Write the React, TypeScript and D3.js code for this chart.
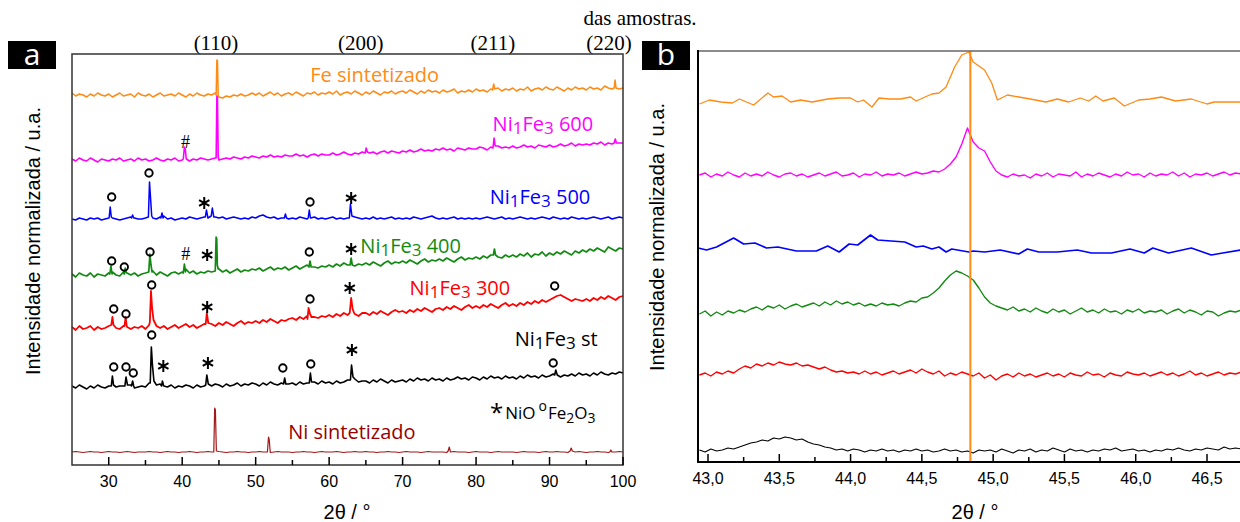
import React from "react";
import * as d3 from "d3";

// ---------- Panel (a): full XRD patterns, 2θ 25–100° ----------
// Baselines sampled every 0.5° from 25°, relative to each pattern's stacking offset.
const A_START = 25;
const A_STEP = 0.5;

const feBase = [
  2, -1, 1, 0, -2, 1, -1, 2, 0, -1,
  1, -2, 0, 2, -1, 0, 1, -2, 2, 0,
  -1, 1, -2, 0, 2, -1, 0, 1, -1, 2,
  0, -2, 1, -1, 2, 0, -1, 1, 0, 2,
  -2, -3, -1, -2, 0, -1, 1, -1, 0, 2,
  0, 2, -1, 1, 3, 0, 2, -1, 1, 2,
  0, 3, 1, -1, 2, 1, 3, 0, 2, 1,
  3, 1, 4, 0, 2, 3, 1, 4, 2, 0,
  3, 1, 4, 2, 0, 3, 2, 4, 1, 3,
  4, 2, 5, 3, 1, 4, 2, 5, 3, 4,
  2, 5, 3, 4, 6, 2, 4, 3, 5, 3,
  6, 4, 5, 3, 6, 5, 7, 4, 6, 5,
  7, 4, 6, 5, 8, 4, 6, 7, 5, 8,
  6, 5, 8, 6, 4, 7, 5, 8, 6, 7,
  5, 8, 6, 7, 5, 9, 7, 6, 8, 6,
  7,
];
const fePeaks = [
  [[44.62, 0], [44.72, 35], [44.8, 34], [44.9, -1]],
  [[82.25, 5], [82.4, 11], [82.55, 6]],
  [[98.8, 7], [98.92, 15], [99.05, 7]],
];

const n600Base = [
  1, -1, 2, 0, -1, 2, 0, -2, 1, 0,
  -1, 1, 0, 2, -1, 0, 1, -1, 2, 0,
  1, -1, 0, 2, 0, -1, 1, 0, 2, -1,
  0, 1, -1, 1, 0, 2, 1, 0, 1, 2,
  0, 1, 2, 1, 3, 2, 1, 3, 2, 4,
  3, 2, 4, 3, 5, 3, 4, 3, 5, 4,
  4, 6, 4, 5, 3, 5, 6, 4, 6, 5,
  5, 7, 5, 6, 8, 6, 5, 7, 6, 8,
  9, 7, 8, 6, 8, 9, 7, 9, 8, 7,
  9, 8, 10, 8, 9, 11, 9, 10, 9, 11,
  10, 12, 10, 11, 9, 12, 11, 10, 12, 11,
  11, 13, 12, 10, 13, 12, 14, 12, 13, 12,
  14, 12, 13, 15, 13, 14, 12, 15, 14, 13,
  15, 13, 14, 16, 14, 15, 17, 14, 16, 15,
  16, 15, 17, 16, 18, 15, 17, 16, 18, 17,
  17,
];
const n600Peaks = [
  [[40.15, 1], [40.3, 13], [40.42, 11], [40.55, 1]],
  [[44.62, 2], [44.72, 64], [44.8, 62], [44.9, 3]],
  [[64.9, 7], [65.05, 12], [65.2, 8]],
  [[82.3, 12], [82.45, 22], [82.6, 14]],
  [[98.8, 17], [98.95, 21], [99.1, 17]],
];

const n500Base = [
  0, -1, 1, 0, -1, 1, 0, 1, -1, 0,
  1, 1, 0, -1, 0, 1, 2, 1, 0, 0,
  1, 0, 1, 0, 2, 3, 0, 1, -1, 0,
  1, 0, 2, 1, 0, 1, 2, 1, 3, 2,
  1, 2, 0, 1, 2, 1, 0, 1, 0, 2,
  1, 3, 4, 2, 1, 2, 0, 1, 2, 0,
  1, 0, 2, 1, 0, 1, 2, 0, 1, 0,
  1, 2, 0, 1, 0, 1, 0, 2, 1, 0,
  1, 0, 2, 0, 1, 0, 1, 2, 0, 1,
  0, 1, 0, 2, 1, 0, 1, 2, 3, 1,
  0, 1, 0, 1, 2, 0, 1, 0, 1, 0,
  1, 0, 1, 2, 1, 0, 1, 2, 0, 1,
  0, 1, 2, 1, 0, 1, 0, 1, 2, 1,
  0, 2, 1, 0, 1, 0, 2, 1, 0, 1,
  0, 1, 2, 1, 0, 1, 2, 0, 1, 2,
  1,
];
const n500Peaks = [
  [[30.05, 1], [30.2, 12], [30.35, 2]],
  [[33.1, 1], [33.25, 4], [33.4, 1]],
  [[35.4, 2], [35.55, 37], [35.7, 20], [35.85, 3]],
  [[37.1, 1], [37.25, 6], [37.4, 1]],
  [[43.15, 2], [43.3, 9], [43.45, 3]],
  [[43.95, 3], [44.1, 11], [44.3, 2]],
  [[53.9, 1], [54.05, 5], [54.2, 1]],
  [[57.15, 1], [57.3, 9], [57.45, 1]],
  [[62.75, 1], [62.9, 15], [63.1, 3]],
];

const n400Base = [
  1, -2, 2, 0, -1, 2, -2, 1, 0, -1,
  2, 3, 0, -1, 3, 2, 0, 2, -1, 1,
  2, 4, 4, 0, 3, 1, -1, 2, 3, 1,
  3, 6, 2, 4, 1, 3, 2, 4, 3, 4,
  6, 3, 5, 2, 4, 6, 3, 5, 4, 6,
  5, 7, 4, 6, 8, 5, 7, 6, 8, 5,
  7, 9, 6, 8, 10, 12, 8, 7, 9, 8,
  10, 8, 11, 9, 12, 10, 13, 9, 11, 10,
  12, 10, 13, 11, 9, 12, 14, 11, 13, 12,
  14, 12, 15, 13, 11, 14, 16, 13, 15, 14,
  16, 14, 17, 15, 13, 16, 18, 15, 17, 16,
  18, 16, 19, 17, 20, 22, 18, 17, 20, 18,
  20, 18, 21, 19, 22, 18, 21, 20, 23, 19,
  22, 20, 23, 21, 24, 22, 20, 24, 22, 25,
  23, 26, 24, 27, 25, 23, 28, 26, 24, 27,
  26,
];
const n400Peaks = [
  [[30.15, 1], [30.3, 9], [30.45, 1]],
  [[32.1, 1], [32.25, 7], [32.4, 2]],
  [[35.45, 3], [35.6, 21], [35.75, 10], [35.9, 3]],
  [[40.15, 2], [40.3, 11], [40.45, 3]],
  [[44.5, 4], [44.62, 38], [44.7, 36], [44.78, 10], [44.9, 6]],
  [[57.25, 8], [57.4, 14], [57.55, 8]],
  [[62.85, 10], [63.0, 17], [63.15, 10]],
  [[82.35, 20], [82.5, 26], [82.65, 20]],
];

const n300Base = [
  1, -2, 2, -1, 0, 2, -2, 1, -1, 0,
  2, 3, 0, -1, 2, 1, -1, 1, 0, 2,
  -1, 3, 12, 2, 0, 2, -1, 1, 3, 0,
  2, 4, 1, 3, 0, 2, 4, 3, 4, 2,
  5, 3, 6, 4, 2, 5, 7, 4, 6, 5,
  7, 5, 8, 6, 9, 7, 5, 8, 7, 9,
  10, 8, 11, 9, 12, 14, 11, 10, 12, 11,
  13, 11, 14, 12, 15, 13, 16, 14, 12, 15,
  15, 13, 16, 14, 17, 15, 13, 16, 18, 16,
  17, 15, 18, 16, 19, 17, 20, 18, 16, 19,
  20, 18, 21, 19, 22, 20, 18, 21, 23, 20,
  22, 20, 23, 21, 24, 22, 20, 23, 25, 22,
  24, 22, 25, 23, 26, 24, 27, 25, 28, 26,
  28, 30, 32, 33, 31, 29, 27, 29, 28, 27,
  29, 27, 30, 28, 31, 29, 32, 30, 28, 31,
  32,
];
const n300Peaks = [
  [[30.35, 3], [30.5, 11], [30.65, 3]],
  [[32.15, 2], [32.3, 11], [32.45, 2]],
  [[35.6, 6], [35.75, 37], [35.9, 20], [36.1, 8]],
  [[43.2, 4], [43.35, 15], [43.55, 5]],
  [[57.05, 9], [57.2, 20], [57.4, 14], [57.6, 11]],
  [[62.8, 15], [63.0, 30], [63.2, 19], [63.4, 15]],
];

const stBase = [
  1, -1, 2, 0, -2, 1, -1, 2, 0, -1,
  1, 2, 0, 1, 1, 0, 2, -1, 0, 1,
  0, 4, 14, 2, 3, 1, 0, 2, -1, 1,
  0, 2, 1, -1, 2, 0, 1, 2, 1, 3,
  2, 0, 3, 1, 2, 4, 1, 3, 2, 4,
  3, 1, 4, 2, 5, 3, 2, 4, 5, 3,
  4, 2, 5, 3, 4, 6, 5, 3, 6, 4,
  5, 3, 6, 4, 5, 7, 12, 8, 5, 6,
  6, 4, 7, 5, 8, 6, 4, 7, 5, 6,
  7, 5, 8, 6, 9, 7, 8, 6, 9, 7,
  8, 6, 9, 7, 8, 10, 8, 9, 7, 10,
  9, 7, 10, 8, 11, 9, 10, 8, 11, 9,
  10, 8, 11, 9, 12, 10, 11, 9, 12, 10,
  11, 13, 12, 10, 12, 11, 13, 11, 14, 12,
  13, 11, 14, 12, 15, 13, 12, 14, 13, 15,
  14,
];
const stPeaks = [
  [[30.35, 1], [30.5, 11], [30.65, 2]],
  [[32.2, 1], [32.35, 10], [32.55, 2]],
  [[33.1, 1], [33.25, 6], [33.4, 1]],
  [[35.65, 4], [35.8, 40], [35.95, 22], [36.15, 6]],
  [[37.2, 1], [37.3, 6], [37.45, 2]],
  [[43.2, 2], [43.35, 12], [43.55, 3]],
  [[53.8, 3], [53.95, 9], [54.1, 3]],
  [[57.3, 4], [57.45, 14], [57.6, 5]],
  [[62.9, 7], [63.05, 22], [63.25, 10]],
  [[90.7, 12], [90.85, 17], [91.05, 12]],
];

const niBase = [
  0, 0.5, 0, -0.5, 0, 0.5, 0, 0, -0.5, 0,
  0.5, 0, 0, -0.5, 0, 0.5, 0, -0.5, 0, 0,
  0, 0.5, 0, 0, -0.5, 0, 0.5, 0, 0, -0.5,
  0, 0, 0.5, 0, -0.5, 0, 0, 0.5, 0, 0,
  0.5, 0, -0.5, 0, 0, 0.5, 0, 0, -0.5, 0,
  0, 0.5, 0, 0, -0.5, 0, 0.5, 0, 0, 0,
  -0.5, 0, 0, 0.5, 0, 0, -0.5, 0, 0.5, 0,
  0, 0, 0.5, 0, -0.5, 0, 0, 0.5, 0, 0,
  0.5, 0, 0, -0.5, 0, 0, 0.5, 0, 0, -0.5,
  0, 0.5, 0, 0, 0, -0.5, 0, 0.5, 0, 0,
  0, 0, -0.5, 0, 0.5, 0, 0, 0, -0.5, 0,
  0.5, 0, 0, 0, -0.5, 0, 0.5, 0, 0, 0,
  0, -0.5, 0, 0.5, 0, 0, 0, -0.5, 0, 0.5,
  0, 0, 0.5, 0, 0, -0.5, 0, 0, 0.5, 0,
  -0.5, 0, 0, 0.5, 0, 0, -0.5, 0, 0, 0.5,
  0,
];
const niPeaks = [
  [[44.3, 0], [44.42, 44], [44.52, 42], [44.65, 1]],
  [[51.6, 0], [51.75, 15], [51.85, 12], [51.98, 0]],
  [[76.2, 1], [76.35, 5], [76.48, 1]],
  [[92.8, 1], [92.95, 4], [93.1, 1]],
  [[98.2, 0], [98.35, 2], [98.48, 0]],
];

// Phase markers: [2θ, stacked intensity, symbol]
const n600Marks = [[40.45, 323, "#"]];
const n500Marks = [[30.4, 268, "o"], [35.48, 292, "o"], [43.0, 262, "*"], [57.4, 263, "o"], [63.0, 267, "*"]];
const n400Marks = [[30.4, 204, "o"], [32.12, 198, "o"], [35.62, 213, "o"], [40.48, 211, "#"], [43.4, 210, "*"], [57.3, 213, "o"], [63.0, 216, "*"]];
const n300Marks = [[30.68, 156, "o"], [32.35, 151, "o"], [35.85, 180, "o"], [43.4, 158, "*"], [57.4, 166, "o"], [62.8, 177, "*"], [90.7, 179, "o"]];
const stMarks = [[30.68, 98], [32.35, 98], [33.34, 92], [35.85, 130], [53.7, 97], [57.5, 101], [90.5, 102]].map((d) => [d[0], d[1], "o"])
  .concat([[37.43, 99, "*"], [43.5, 102, "*"], [63.1, 115, "*"]]);

// Stacking offsets of the patterns (same units as the axis)
const offsets = { fe: 370, n600: 305, n500: 246, n400: 190, n300: 137, st: 78, ni: 13 };

const millerLabels = ["(110)", "(200)", "(211)", "(220)"];
const millerPos = [44.6, 64.3, 82.3, 98.1];

const ticksA = [30, 40, 50, 60, 70, 80, 90, 100];
const minorA = [35, 45, 55, 65, 75, 85, 95];

// ---------- Panel (b): zoom on the (110) reflection ----------
const B_START = 42.94;
const B_STEP = 0.04;

const bOrange = [
  [42.94, 358], [43.01, 362], [43.09, 360], [43.17, 359], [43.22, 363], [43.32, 357], [43.42, 369], [43.46, 365],
  [43.52, 366], [43.58, 360], [43.65, 362], [43.73, 360], [43.84, 363], [43.92, 364], [44.0, 364], [44.05, 360],
  [44.09, 362], [44.15, 355], [44.2, 364], [44.27, 363], [44.35, 363], [44.42, 365], [44.46, 361], [44.57, 368],
  [44.62, 369], [44.67, 375], [44.73, 395], [44.78, 407], [44.83, 410], [44.86, 400], [44.94, 392], [44.99, 379],
  [45.03, 362], [45.1, 367], [45.18, 365], [45.26, 363], [45.37, 360], [45.45, 363], [45.53, 360], [45.61, 364],
  [45.67, 361], [45.72, 366], [45.77, 361], [45.85, 364], [45.92, 356], [46.02, 362], [46.1, 363], [46.18, 365],
  [46.28, 361], [46.39, 363], [46.5, 358], [46.55, 360], [46.74, 360],
];

const bMagenta = [
  287, 289, 285, 288, 286, 290, 287, 285, 289, 286,
  288, 286, 290, 287, 285, 288, 289, 286, 288, 285,
  287, 289, 286, 288, 290, 286, 287, 289, 285, 288,
  287, 290, 286, 288, 287, 289, 286, 288, 290, 288,
  289, 291, 290, 293, 298, 305, 318, 334, 320, 314,
  311, 300, 291, 287, 285, 288, 286, 287, 284, 288,
  286, 289, 285, 288, 287, 286, 290, 285, 288, 286,
  289, 287, 285, 288, 286, 290, 287, 288, 285, 289,
  286, 288, 287, 290, 286, 289, 285, 288, 287, 289,
  286, 288, 290, 287, 289, 288,
];

const bBlue = [
  [42.93, 214], [42.99, 212], [43.06, 215], [43.18, 224], [43.25, 218], [43.33, 219], [43.41, 214], [43.49, 215],
  [43.62, 211], [43.76, 211], [43.84, 216], [43.92, 210], [43.99, 218], [44.05, 217], [44.14, 227], [44.19, 222],
  [44.38, 220], [44.46, 215], [44.51, 216], [44.57, 213], [44.62, 215], [44.67, 210], [44.71, 213], [44.83, 210],
  [44.86, 211], [44.94, 210], [45.05, 212], [45.18, 208], [45.24, 213], [45.32, 210], [45.45, 210], [45.59, 212],
  [45.69, 209], [45.83, 209], [45.96, 213], [46.06, 209], [46.12, 214], [46.23, 209], [46.39, 214], [46.53, 207],
  [46.61, 209], [46.74, 212],
];

const bGreen = [
  148, 151, 146, 150, 147, 151, 149, 152, 150, 153,
  155, 152, 156, 154, 157, 153, 156, 158, 155, 157,
  159, 156, 160, 157, 161, 158, 160, 157, 159, 156,
  158, 156, 159, 157, 158, 156, 159, 161, 160, 164,
  165, 169, 174, 181, 187, 191, 189, 186, 182, 174,
  165, 159, 156, 154, 152, 155, 151, 153, 150, 154,
  151, 149, 153, 150, 152, 148, 151, 154, 150, 152,
  149, 153, 150, 151, 148, 152, 150, 153, 149, 151,
  150, 152, 148, 151, 153, 149, 152, 150, 147, 151,
  150, 146, 149, 151, 150, 152,
];

const bRed = [
  87, 89, 86, 90, 88, 91, 89, 93, 96, 94,
  98, 96, 99, 97, 100, 98, 97, 99, 96, 97,
  95, 93, 95, 92, 90, 91, 89, 90, 88, 91,
  88, 90, 87, 89, 91, 88, 90, 92, 89, 93,
  90, 88, 91, 86, 89, 87, 90, 88, 86, 89,
  84, 87, 82, 86, 88, 85, 89, 86, 88, 85,
  87, 89, 86, 88, 85, 89, 87, 86, 90, 87,
  88, 85, 89, 87, 86, 90, 88, 87, 89, 86,
  88, 90, 87, 89, 86, 88, 91, 87, 89, 86,
  88, 90, 87, 89, 88, 90,
];

const bBlack = [
  12, 10, 13, 11, 12, 14, 13, 15, 17, 19,
  20, 22, 21, 24, 23, 25, 24, 22, 23, 20,
  18, 17, 15, 14, 12, 13, 11, 13, 12, 10,
  12, 11, 13, 11, 12, 10, 12, 11, 13, 11,
  12, 10, 11, 13, 11, 12, 10, 11, 9, 12,
  11, 12, 10, 13, 11, 9, 12, 11, 13, 10,
  12, 11, 14, 12, 10, 13, 11, 12, 10, 12,
  11, 13, 12, 14, 11, 12, 13, 11, 12, 10,
  12, 11, 13, 12, 14, 12, 11, 13, 12, 14,
  13, 12, 15, 13, 14, 13,
];

const refLine = 44.84;
const ticksB = [43.0, 43.5, 44.0, 44.5, 45.0, 45.5, 46.0, 46.5];
const minorB = [43.25, 43.75, 44.25, 44.75, 45.25, 45.75, 46.25];

// ---------- helpers ----------
const SANS = "'Liberation Sans', Arial, sans-serif";
const LABEL = "'Open Sans', sans-serif";
const SERIF = "'Liberation Serif', 'Times New Roman', serif";

function trace(base: number[], peaks: number[][][], start: number, step: number) {
  const grid = base.map((v, i) => [start + step * i, v]);
  const kept = grid.filter(([x]) => !peaks.some((g) => x > g[0][0] && x < g[g.length - 1][0]));
  return kept.concat(peaks.flat() as number[][]).sort((a, b) => a[0] - b[0]);
}

const xA = d3.scaleLinear().domain([25, 100]).range([72, 623]);
const yA = d3.scaleLinear().domain([0, 411]).range([465, 54]);
const xB = d3.scaleLinear().domain([43, 46.5]).range([708, 1207]);
const yB = d3.scaleLinear().domain([0, 411]).range([462, 51]);

const commaFmt = d3.formatLocale({ decimal: ",", thousands: ".", grouping: [3], currency: ["", ""] }).format(".1f");
const asteriskPath = d3.symbol().type(d3.symbolAsterisk).size(100)() as string;

type Series = { key: string; color: string; offset: number; base: number[]; peaks: number[][][]; marks: any[]; w: number };

const seriesA: Series[] = [
  { key: "fe", color: "#FF8A14", offset: offsets.fe, base: feBase, peaks: fePeaks, marks: [], w: 1.5 },
  { key: "n600", color: "#FF00FF", offset: offsets.n600, base: n600Base, peaks: n600Peaks, marks: n600Marks, w: 1.6 },
  { key: "n500", color: "#0000FF", offset: offsets.n500, base: n500Base, peaks: n500Peaks, marks: n500Marks, w: 1.5 },
  { key: "n400", color: "#128A12", offset: offsets.n400, base: n400Base, peaks: n400Peaks, marks: n400Marks, w: 1.7 },
  { key: "n300", color: "#FF0000", offset: offsets.n300, base: n300Base, peaks: n300Peaks, marks: n300Marks, w: 1.8 },
  { key: "st", color: "#000000", offset: offsets.st, base: stBase, peaks: stPeaks, marks: stMarks, w: 1.6 },
  { key: "ni", color: "#A01818", offset: offsets.ni, base: niBase, peaks: niPeaks, marks: [], w: 1.2 },
];

function Mark({ x, y, s }: { x: number; y: number; s: string }) {
  if (s === "o") return <circle cx={x} cy={y} r={3.7} fill="none" stroke="#000" strokeWidth={1.9} />;
  if (s === "*") return <path d={asteriskPath} transform={`translate(${x},${y})`} stroke="#000" strokeWidth={2} fill="none" />;
  return (
    <text x={x} y={y + 6} textAnchor="middle" fontFamily={SERIF} fontSize={18} fill="#000">
      #
    </text>
  );
}

function NiFeLabel({ x, y, color, tail }: { x: number; y: number; color: string; tail: string }) {
  return (
    <text x={x} y={y + 7} textAnchor="middle" fontFamily={LABEL} fontSize={20} fill={color}>
      Ni
      <tspan fontSize={17} dy={3}>1</tspan>
      <tspan dy={-3}>Fe</tspan>
      <tspan fontSize={17} dy={3}>3</tspan>
      <tspan dy={-3}>{" " + tail}</tspan>
    </text>
  );
}

export default function App() {
  const lineA = (offset: number) =>
    d3.line<number[]>().x((d) => xA(d[0])).y((d) => yA(d[1] + offset));
  const lineB = d3.line<number[]>().x((d) => xB(d[0])).y((d) => yB(d[1]));
  const gridB = (vals: number[]) => vals.map((v, i) => [B_START + B_STEP * i, v]);

  const panelBTraces = [
    { color: "#FF8A14", pts: bOrange, w: 1.3 },
    { color: "#FF00FF", pts: gridB(bMagenta), w: 1.4 },
    { color: "#0000FF", pts: bBlue, w: 1.7 },
    { color: "#128A12", pts: gridB(bGreen), w: 1.4 },
    { color: "#FF0000", pts: gridB(bRed), w: 1.4 },
    { color: "#000000", pts: gridB(bBlack), w: 1.1 },
  ];

  return (
    <svg width={1240} height={522} style={{ position: "absolute", left: 0, top: 0, background: "#fff" }}>
      <defs>
        <clipPath id="clipB">
          <rect x={698} y={51} width={560} height={411} />
        </clipPath>
      </defs>

      <text x={640} y={25} textAnchor="middle" fontFamily={SERIF} fontSize={21} fill="#000">
        das amostras.
      </text>

      {/* ---------------- panel a ---------------- */}
      <rect x={8} y={41} width={48} height={28} fill="#000" />
      <text x={32} y={65} textAnchor="middle" fontFamily={LABEL} fontSize={30} fill="#fff">a</text>

      {millerLabels.map((m, i) => (
        <text key={m} x={xA(millerPos[i])} y={50} textAnchor="middle" fontFamily={SERIF} fontSize={21} fill="#000">
          {m}
        </text>
      ))}

      {seriesA.map((s) => (
        <path key={s.key} d={lineA(s.offset)(trace(s.base, s.peaks, A_START, A_STEP)) || ""} fill="none"
          stroke={s.color} strokeWidth={s.w} strokeLinejoin="round" />
      ))}

      {seriesA.flatMap((s) =>
        s.marks.map((m: any, i: number) => <Mark key={s.key + i} x={xA(m[0])} y={yA(m[1])} s={m[2]} />)
      )}

      <text x={xA(66.2)} y={yA(390) + 7} textAnchor="middle" fontFamily={LABEL} fontSize={20} fill="#FF8A14">
        Fe sintetizado
      </text>
      <NiFeLabel x={xA(89.1)} y={yA(341)} color="#FF00FF" tail="600" />
      <NiFeLabel x={xA(88.7)} y={yA(268)} color="#0000FF" tail="500" />
      <NiFeLabel x={xA(71.1)} y={yA(219)} color="#128A12" tail="400" />
      <NiFeLabel x={xA(77.8)} y={yA(177)} color="#FF0000" tail="300" />
      <NiFeLabel x={xA(90.9)} y={yA(126)} color="#000000" tail="st" />
      <text x={xA(63.1)} y={yA(33) + 7} textAnchor="middle" fontFamily={LABEL} fontSize={20} fill="#990000">
        Ni sintetizado
      </text>

      <text x={xA(81.9)} y={yA(46)} fontFamily={LABEL} fontSize={17} fill="#000">
        <tspan fontSize={24} dy={2}>*</tspan>
        <tspan dy={-2} dx={2}>NiO</tspan>
        <tspan fontSize={14} dy={-8} dx={3}>o</tspan>
        <tspan dy={8} dx={1}>Fe</tspan>
        <tspan fontSize={14} dy={4}>2</tspan>
        <tspan dy={-4}>O</tspan>
        <tspan fontSize={14} dy={4}>3</tspan>
      </text>

      <rect x={72} y={54} width={551} height={411} fill="none" stroke="#333" strokeWidth={1.5} />
      {ticksA.map((t) => (
        <g key={t}>
          <line x1={xA(t)} x2={xA(t)} y1={465} y2={457} stroke="#000" strokeWidth={1.5} />
          <text x={xA(t)} y={487} textAnchor="middle" fontFamily={SANS} fontSize={16} fill="#000">{t}</text>
        </g>
      ))}
      {minorA.map((t) => (
        <line key={t} x1={xA(t)} x2={xA(t)} y1={465} y2={460} stroke="#000" strokeWidth={1.5} />
      ))}
      <text transform="translate(33,241) rotate(-90)" textAnchor="middle" dominantBaseline="central"
        fontFamily={SANS} fontSize={20} fill="#000">
        Intensidade normalizada / u.a.
      </text>
      <text x={347} y={519} textAnchor="middle" fontFamily={SANS} fontSize={20} fill="#000">2θ / °</text>

      {/* ---------------- panel b ---------------- */}
      <rect x={642} y={41} width={48} height={29} fill="#000" />
      <text x={666} y={65} textAnchor="middle" fontFamily={LABEL} fontSize={30} fill="#fff">b</text>

      <g clipPath="url(#clipB)">
        {panelBTraces.map((t, i) => (
          <path key={i} d={lineB(t.pts) || ""} fill="none" stroke={t.color} strokeWidth={t.w} strokeLinejoin="round" />
        ))}
        <line x1={xB(refLine)} x2={xB(refLine)} y1={51} y2={462} stroke="#FF8A14" strokeWidth={2} />
      </g>

      <line x1={698} x2={1240} y1={51} y2={51} stroke="#666" strokeWidth={1.5} />
      <line x1={698} x2={698} y1={50} y2={463} stroke="#000" strokeWidth={2} />
      <line x1={697} x2={1240} y1={462} y2={462} stroke="#000" strokeWidth={2} />
      {ticksB.map((t) => (
        <g key={t}>
          <line x1={xB(t)} x2={xB(t)} y1={462} y2={454} stroke="#000" strokeWidth={1.5} />
          <text x={xB(t)} y={484} textAnchor="middle" fontFamily={SANS} fontSize={16} fill="#000">{commaFmt(t)}</text>
        </g>
      ))}
      {minorB.map((t) => (
        <line key={t} x1={xB(t)} x2={xB(t)} y1={462} y2={457} stroke="#000" strokeWidth={1.5} />
      ))}
      <text transform="translate(657,237) rotate(-90)" textAnchor="middle" dominantBaseline="central"
        fontFamily={SANS} fontSize={20} fill="#000">
        Intensidade normalizada / u.a.
      </text>
      <text x={975} y={519} textAnchor="middle" fontFamily={SANS} fontSize={20} fill="#000">2θ / °</text>
    </svg>
  );
}
